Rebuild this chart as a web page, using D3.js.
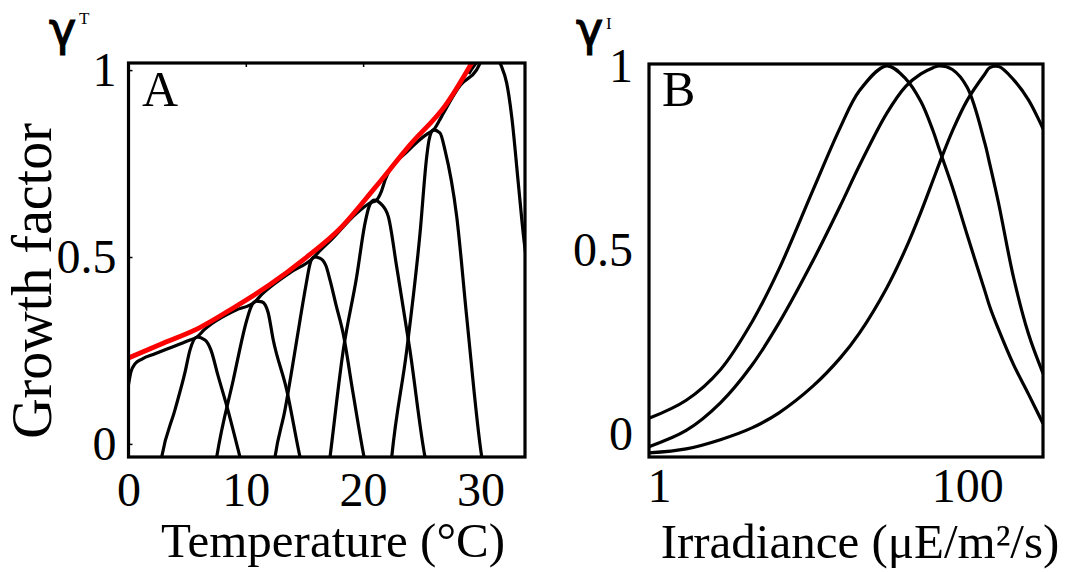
<!DOCTYPE html>
<html>
<head>
<meta charset="utf-8">
<script src="https://cdn.jsdelivr.net/npm/d3@7"></script>
<style>
  body { margin: 0; background: #fff; }
  text { font-family: "Liberation Serif", "Times New Roman", serif; fill: #000; }
</style>
</head>
<body>
<script>
// ---- panel A : temperature ----
const tempTicks = [0, 10, 20, 30];
const growthTicks = [0, 0.5, 1];

// red envelope
const envT = [0, 3, 6, 9, 12, 15, 18, 21, 24, 27, 30];
const envV = [0.23, 0.27, 0.31, 0.365, 0.425, 0.495, 0.575, 0.685, 0.80, 0.905, 1.06];

// black line running just under the envelope, dipping into each peak
const hugT = [0, 0.2, 0.55, 1.15, 2.26, 3.96, 5.24, 5.84, 6.44, 7.12, 9.08, 10.78, 11.3, 11.72, 13.77, 15.73, 16.32, 17.34, 19.3, 20.6, 21.13, 21.55, 21.9, 23.86, 25.5, 26.0, 26.5, 26.85, 28.3, 29.66, 30.3];
const hugV = [0.158, 0.192, 0.214, 0.227, 0.241, 0.262, 0.278, 0.286, 0.305, 0.322, 0.357, 0.380, 0.398, 0.41, 0.458, 0.497, 0.517, 0.548, 0.613, 0.645, 0.652, 0.675, 0.708, 0.785, 0.83, 0.840, 0.865, 0.885, 0.96, 1.0, 1.04];

// single-type temperature curves
const bumpT = [
  [2.6, 2.83, 3.96, 4.82, 5.24, 5.84, 6.52, 7.03, 7.62, 8.40, 9.50, 9.7],
  [7.3, 7.52, 8.93, 10.08, 10.44, 10.87, 11.38, 11.89, 12.34, 13.49, 14.62, 14.8],
  [12.3, 12.49, 13.34, 14.02, 14.62, 15.13, 15.47, 15.81, 16.32, 16.84, 17.18, 17.69, 18.29, 19.14, 20.08, 20.3],
  [17.0, 17.18, 18.31, 19.45, 20.16, 20.50, 20.93, 21.52, 22.15, 22.86, 23.99, 25.27, 25.5],
  [22.3, 22.44, 23.72, 24.85, 25.42, 25.62, 25.98, 26.55, 26.98, 27.98, 28.83, 30.11, 30.3],
  [29.0, 30.0, 31.0, 31.81, 32.24, 32.67, 33.23, 33.65, 34.1]
];
const bumpV = [
  [-0.08, -0.035, 0.091, 0.192, 0.251, 0.286, 0.278, 0.251, 0.184, 0.099, -0.035, -0.06],
  [-0.08, -0.035, 0.171, 0.331, 0.366, 0.382, 0.380, 0.353, 0.278, 0.144, -0.035, -0.06],
  [-0.08, -0.035, 0.091, 0.216, 0.331, 0.425, 0.481, 0.500, 0.497, 0.476, 0.438, 0.372, 0.297, 0.136, -0.035, -0.07],
  [-0.08, -0.035, 0.251, 0.447, 0.590, 0.634, 0.652, 0.642, 0.608, 0.474, 0.251, -0.034, -0.07],
  [-0.08, -0.035, 0.251, 0.563, 0.768, 0.813, 0.840, 0.832, 0.786, 0.608, 0.340, -0.034, -0.07],
  [0.99, 1.03, 1.04, 1.009, 0.965, 0.875, 0.697, 0.563, 0.45]
];

// ---- panel B : irradiance ----
const irrTicks = [1, 100];
const irr = [0.86, 1.5, 2.5, 4, 6, 10, 15, 20, 30, 40, 50, 60, 66, 80, 100, 130, 140, 160, 200, 250, 310];
const light1 = [0.043, 0.092, 0.175, 0.304, 0.448, 0.664, 0.833, 0.933, 1.0, 0.964, 0.903, 0.823, 0.772, 0.671, 0.540, 0.389, 0.346, 0.283, 0.188, 0.108, 0.029];
const light2 = [-0.034, 0.010, 0.085, 0.187, 0.302, 0.472, 0.620, 0.730, 0.871, 0.945, 0.978, 0.995, 1.0, 0.990, 0.941, 0.790, 0.733, 0.625, 0.424, 0.271, 0.165];
const light3 = [-0.051, -0.040, -0.015, 0.017, 0.058, 0.131, 0.207, 0.275, 0.397, 0.505, 0.603, 0.690, 0.736, 0.823, 0.907, 0.978, 0.995, 0.998, 0.962, 0.907, 0.829];

const svg = d3.select("body").append("svg")
  .attr("width", 1073)
  .attr("height", 572);

const tickFmt = d => d === 0.5 ? "0.5" : String(d);

// scales
const xA = d3.scaleLinear().domain([0, 33.8]).range([128.5, 525]);
const yA = d3.scaleLinear().domain([-0.035, 1.019]).range([457, 63]);
const xB = d3.scaleLog().domain([0.86, 310]).range([649, 1043]);
const yB = d3.scaleLinear().domain([-0.062, 1.005]).range([457, 64]);

const defs = svg.append("defs");
function clip(id, x, y) {
  defs.append("clipPath").attr("id", id).append("rect")
    .attr("x", x.range()[0]).attr("y", y.range()[1])
    .attr("width", x.range()[1] - x.range()[0])
    .attr("height", y.range()[0] - y.range()[1]);
}
clip("clipA", xA, yA);
clip("clipB", xB, yB);

// ---- draw panel A ----
const lineA = d3.line().x(d => xA(d[0])).y(d => yA(d[1])).curve(d3.curveMonotoneX);
const gA = svg.append("g").attr("clip-path", "url(#clipA)");

bumpT.forEach(function(ts, i) {
  gA.append("path")
    .datum(ts.map((t, j) => [t, bumpV[i][j]]))
    .attr("d", lineA)
    .attr("fill", "none").attr("stroke", "#000").attr("stroke-width", 3.2);
});
gA.append("path")
  .datum(hugT.map((t, j) => [t, hugV[j]]))
  .attr("d", lineA)
  .attr("fill", "none").attr("stroke", "#000").attr("stroke-width", 3.2);
gA.append("path")
  .datum(envT.map((t, j) => [t, envV[j]]))
  .attr("d", lineA)
  .attr("fill", "none").attr("stroke", "#f00").attr("stroke-width", 4.8);

// ---- draw panel B ----
const lineB = d3.line().x(d => xB(d[0])).y(d => yB(d[1])).curve(d3.curveCatmullRom);
const gB = svg.append("g").attr("clip-path", "url(#clipB)");
[light1, light2, light3].forEach(function(vals) {
  gB.append("path")
    .datum(irr.map((v, j) => [v, vals[j]]))
    .attr("d", lineB)
    .attr("fill", "none").attr("stroke", "#000").attr("stroke-width", 3.2);
});

// ---- axes ----
function styleAxis(g) {
  g.select(".domain").remove();
  g.selectAll(".tick line").attr("stroke", "#000").attr("stroke-width", 1.5);
  g.selectAll(".tick text").attr("fill", "#000")
    .style("font-family", "'Liberation Serif', serif").style("font-size", "48px");
}

svg.append("g").attr("transform", `translate(${xA.range()[0]},0)`)
  .call(d3.axisLeft(yA).tickValues(growthTicks).tickFormat(tickFmt).tickSize(-4).tickPadding(12))
  .call(styleAxis);
svg.append("g").attr("transform", `translate(0,${yA.range()[0]})`)
  .call(d3.axisBottom(xA).tickValues(tempTicks).tickSize(0).tickPadding(15))
  .call(styleAxis);
svg.append("g").attr("transform", `translate(0,${yA.range()[1]})`)
  .call(d3.axisTop(xA).tickValues([10, 20]).tickFormat("").tickSize(-4))
  .call(styleAxis);

svg.append("g").attr("transform", `translate(${xB.range()[0]},0)`)
  .call(d3.axisLeft(yB).tickValues(growthTicks).tickFormat(tickFmt).tickSize(0).tickPadding(16))
  .call(styleAxis);
svg.append("g").attr("transform", `translate(0,${yB.range()[0]})`)
  .call(d3.axisBottom(xB).tickValues(irrTicks).tickFormat(d3.format("d")).tickSize(0).tickPadding(11))
  .call(styleAxis);

// frames
[[xA, yA], [xB, yB]].forEach(function(p) {
  svg.append("rect")
    .attr("x", p[0].range()[0]).attr("y", p[1].range()[1])
    .attr("width", p[0].range()[1] - p[0].range()[0])
    .attr("height", p[1].range()[0] - p[1].range()[1])
    .attr("fill", "none").attr("stroke", "#000").attr("stroke-width", 3.2);
});

// panel letters
svg.append("text").attr("x", 142).attr("y", 106).style("font-size", "50px").text("A");
svg.append("text").attr("x", 662).attr("y", 106).style("font-size", "50px").text("B");

// gamma labels
svg.append("text").attr("x", 49).attr("y", 45)
  .style("font-family", "'DejaVu Sans', sans-serif").style("font-size", "46px")
  .attr("stroke", "#000").attr("stroke-width", 1.2).text("γ");
svg.append("text").attr("x", 79).attr("y", 24).style("font-size", "17px").text("T");
svg.append("text").attr("x", 576).attr("y", 45)
  .style("font-family", "'DejaVu Sans', sans-serif").style("font-size", "46px")
  .attr("stroke", "#000").attr("stroke-width", 1.2).text("γ");
svg.append("text").attr("x", 606).attr("y", 29).style("font-size", "17px").text("I");

// axis titles
svg.append("text")
  .attr("transform", "translate(51,281) rotate(-90)")
  .attr("text-anchor", "middle").style("font-size", "56px")
  .text("Growth factor");
svg.append("text").attr("x", 333).attr("y", 557)
  .attr("text-anchor", "middle").style("font-size", "49px")
  .text("Temperature (°C)");
svg.append("text").attr("x", 860).attr("y", 558)
  .attr("text-anchor", "middle").style("font-size", "49px")
  .text("Irradiance (μE/m²/s)");
</script>
</body>
</html>
